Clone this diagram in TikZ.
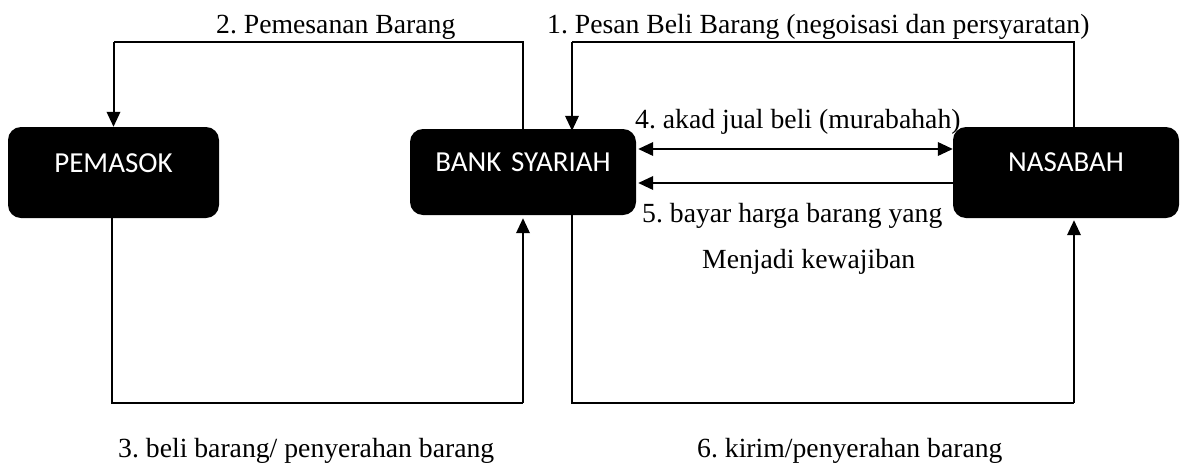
\documentclass[tikz,border=0pt]{standalone}
\usepackage{fontspec}
\setmainfont{Liberation Serif}
\newfontfamily\boxfont{Carlito}
\usetikzlibrary{arrows.meta,calc}
\frenchspacing
\begin{document}
\begin{tikzpicture}[x=1pt,y=-1pt,
  entity/.style={fill=black, rounded corners=13pt, inner sep=0pt, text=white,
    font=\boxfont\fontsize{29}{34}\selectfont, align=center, anchor=base},
  conn/.style={line width=1.1pt},
  arr/.style={line width=2pt, -{Triangle[length=15pt,width=13.5pt]}},
  dblarr/.style={line width=2pt, {Triangle[length=15pt,width=13.5pt]}-{Triangle[length=15pt,width=13.5pt]}},
  lbl/.style={anchor=base west, inner sep=0pt, font=\fontsize{27.7}{33}\selectfont}]
\useasboundingbox (0,0) rectangle (1181,464);

% boxes
\node[entity, text width=211pt, text height=45pt, text depth=46pt] (pemasok) at (113.5,172) {PEMASOK};
\node[entity, text width=226pt, text height=42pt, text depth=44pt] (bank) at (523,171) {BANK SYARIAH};
\node[entity, text width=226pt, text height=44pt, text depth=47pt] (nasabah) at (1066,171) {NASABAH};

% helper coordinates
\coordinate (topY) at (0,42);
\coordinate (botY) at (0,403);
\coordinate (b1) at ([xshift=49pt]bank.north);
\coordinate (b6) at ([xshift=49pt]bank.south);
\coordinate (n1) at ([xshift=8pt]nasabah.north);
\coordinate (n6) at ([xshift=8pt]nasabah.south);
\coordinate (p3) at ([xshift=-1.5pt]pemasok.south);

% 2. Pemesanan Barang
\draw[conn] (bank.north) -- (bank.north |- topY) -- (pemasok.north |- topY);
\draw[arr] (pemasok.north |- topY) -- (pemasok.north);

% 1. Pesan Beli Barang
\draw[conn] (n1) -- (n1 |- topY) -- (b1 |- topY);
\draw[arr, shorten >=-2pt] (b1 |- topY) -- (b1);

% 3. beli barang
\draw[conn] (p3) -- (p3 |- botY) -- (bank.south |- botY);
\draw[arr, shorten >=3pt] (bank.south |- botY) -- (bank.south);

% 6. kirim
\draw[conn] (b6) -- (b6 |- botY) -- (n6 |- botY);
\draw[arr, shorten >=2pt] (n6 |- botY) -- (n6);

% 4 and 5
\draw[dblarr, shorten <=2pt] (bank.east |- 0,149) -- (nasabah.west |- 0,149);
\draw[arr, shorten >=2pt] (nasabah.west |- 0,183) -- (bank.east |- 0,183);

% labels
\node[lbl] (l2) at (216,33) {2. Pemesanan Barang};
\node[lbl] (l1) at (547,33) {1. Pesan Beli Barang (negoisasi dan persyaratan)};
\node[lbl] (l4) at (635,128) {4. akad jual beli (murabahah)};
\node[lbl] (l5) at (642,222) {5. bayar harga barang yang};
\node[lbl] (l5b) at (702,268) {Menjadi kewajiban};
\node[lbl] (l3) at (118,457) {3. beli barang/ penyerahan barang};
\node[lbl] (l6) at (697,457) {6. kirim/penyerahan barang};
\end{tikzpicture}
\end{document}
